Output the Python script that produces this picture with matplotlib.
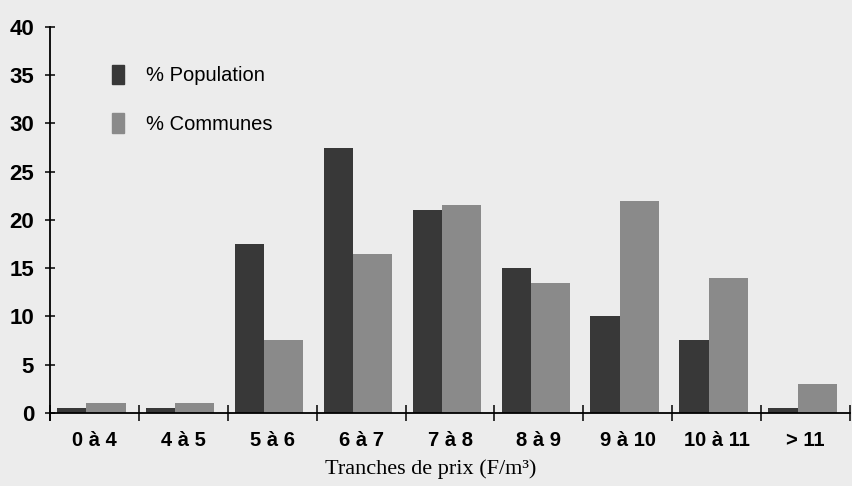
import numpy as np
import matplotlib.pyplot as plt
from matplotlib.patches import Patch

categories = ["0 à 4", "4 à 5", "5 à 6", "6 à 7", "7 à 8", "8 à 9", "9 à 10", "10 à 11", "> 11"]
population = [0.5, 0.5, 17.5, 27.5, 21, 15, 10, 7.5, 0.5]
communes = [1, 1, 7.5, 16.5, 21.5, 13.5, 22, 14, 3]

dark = "#383838"
grey = "#8a8a8a"
bg = "#ececec"

fig = plt.figure(figsize=(8.52, 4.86), dpi=100, facecolor=bg)
# axes placed so that y=0 sits at ~413 px and y=40 at ~27 px
ax = fig.add_axes([50 / 852, 1 - 420 / 486, 800 / 852, 393 / 486], facecolor=bg)

x = np.arange(len(categories))
ax.bar(x + 0.08, population, width=0.33, align="edge", color=dark, zorder=2)
ax.bar(x + 0.41, communes, width=0.44, align="edge", color=grey, zorder=2)

ax.set_xlim(0, len(categories) - 0.02)
ax.set_ylim(-0.75, 40)

for s in ["top", "right"]:
    ax.spines[s].set_visible(False)
ax.spines["bottom"].set_position(("data", 0))
ax.spines["left"].set_linewidth(1.3)
ax.spines["bottom"].set_linewidth(1.3)

ax.set_yticks(range(0, 41, 5))
ax.set_yticklabels([str(v) for v in range(0, 41, 5)], fontsize=16,
                   fontweight="bold", family="Liberation Sans")
ax.tick_params(axis="y", direction="inout", length=7, width=1.1, pad=8)

ax.set_xticks(np.arange(len(categories) + 1))
ax.set_xticklabels([])
ax.set_xticks(x + 0.5, minor=True)
ax.set_xticklabels(categories, minor=True, fontsize=14.5, fontweight="bold",
                   family="Liberation Sans")
ax.tick_params(axis="x", which="major", direction="inout", length=11, width=1.1)
ax.tick_params(axis="x", which="minor", length=0, pad=13)

fig.text(0.505, 0.035, "Tranches de prix (F/m³)", ha="center", va="center",
         fontsize=16, family="Liberation Serif")

handles = [Patch(color=dark), Patch(color=grey)]
ax.legend(handles, ["% Population", "% Communes"], loc="upper left",
          bbox_to_anchor=(0.055, 0.95), frameon=False, handlelength=0.6,
          handleheight=1.1, handletextpad=1.1, labelspacing=1.4,
          prop={"family": "Liberation Sans", "size": 14.5})

fig.savefig("out.png", dpi=100, facecolor=bg)
